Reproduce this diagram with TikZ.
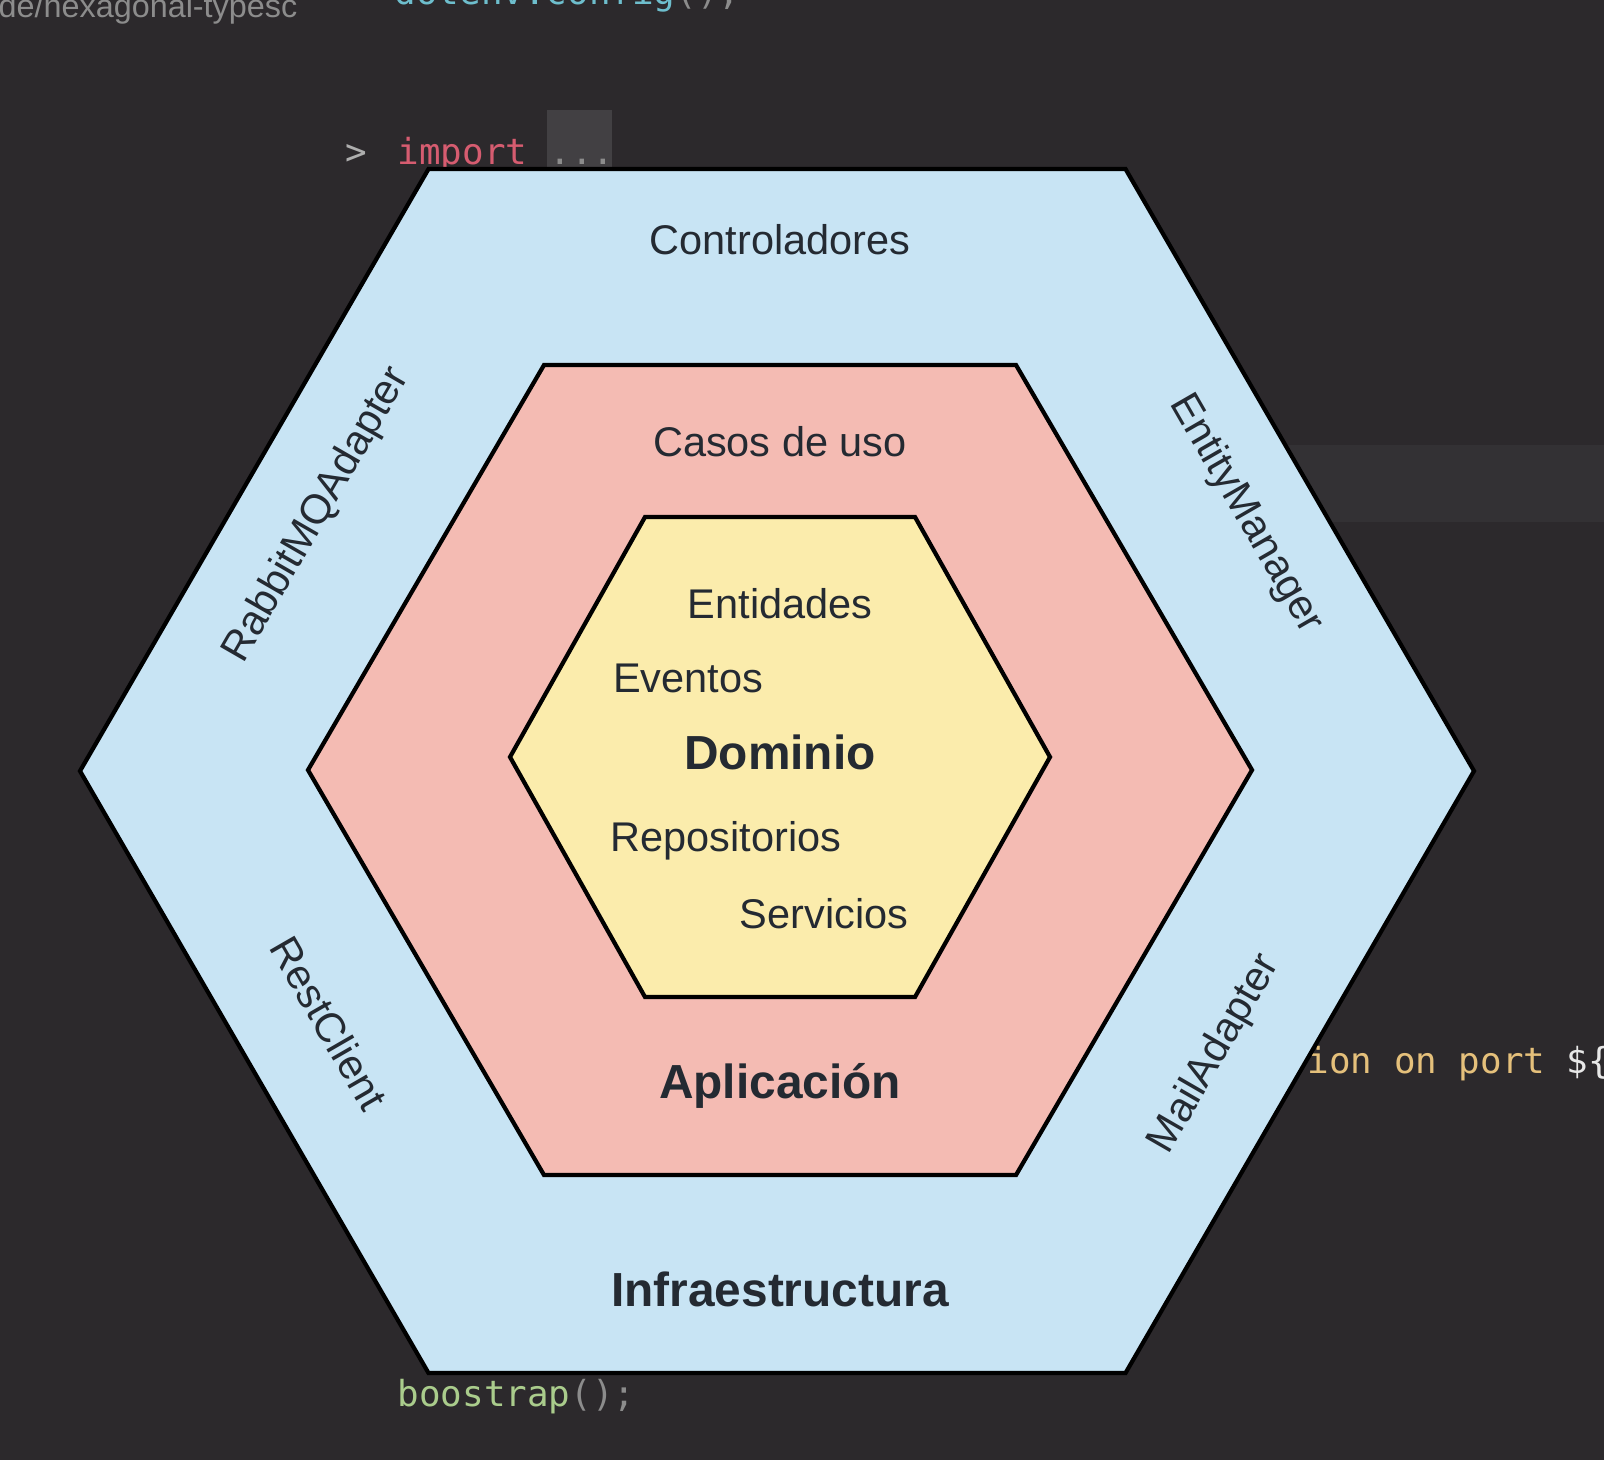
\documentclass[tikz,border=0pt]{standalone}
\usepackage{fontspec}
\setmainfont{Liberation Sans}
\setmonofont{DejaVu Sans Mono}
\usetikzlibrary{positioning}
\definecolor{editorbg}{RGB}{44,41,44}
\definecolor{lineband}{RGB}{51,49,52}
\definecolor{foldbox}{RGB}{66,64,67}
\definecolor{infra}{RGB}{200,228,244}
\definecolor{app}{RGB}{244,187,179}
\definecolor{domain}{RGB}{251,236,172}
\definecolor{ink}{RGB}{36,42,50}
\definecolor{codegray}{RGB}{140,140,140}
\definecolor{keyword}{RGB}{214,92,112}
\definecolor{funcgreen}{RGB}{170,204,140}
\definecolor{strgold}{RGB}{229,192,123}
\definecolor{varcyan}{RGB}{110,190,205}

\begin{document}
\begin{tikzpicture}[x=0.01cm, y=-0.01cm, line join=miter,
  layer/.style={draw=black, line width=1.2pt},
  lbl/.style={font=\fontsize{11.8}{14}\selectfont, text=ink, inner sep=0pt},
  title/.style={font=\fontsize{13.6}{16}\selectfont\bfseries, text=ink, inner sep=0pt},
  code/.style={font=\fontsize{10.2}{12}\selectfont\ttfamily, inner sep=0pt, anchor=base west}]
  \useasboundingbox (0,0) rectangle (1604,1460);
  \fill[editorbg] (0,0) rectangle (1604,1460);
  \fill[lineband] (1100,445) rectangle (1604,522);

  % editor text behind the diagram
  \begin{scope}
    \clip (0,0) rectangle (297,60);
    \node[anchor=base west, inner sep=0pt, text=codegray, font=\fontsize{9.2}{11}\selectfont] (tab) at (-2,17) {de/hexagonal-typesc};
  \end{scope}
  \node[code, text=varcyan] (cfg) at (394,4) {dotenv.config\textcolor{codegray}{();}};
  \node[code, text=codegray!70] (chev) at (345,164) {>};
  \node[code, text=keyword] (imp) at (397,164) {import};
  \fill[foldbox] (547,110) rectangle (612,175);
  \node[code, text=codegray] (dots) at (549,164) {...};
  \node[code, text=strgold] (port) at (1307,1073) {ion on port \textcolor{white!80!codegray}{\$\{}};
  \node[code, text=funcgreen] (boot) at (397,1406) {boostrap\textcolor{codegray}{();}};

  % hexagons: cx/cy/half width/half height/fill
  \foreach \cx/\cy/\r/\h/\c in {777/771/697/602/infra, 780/770/472/405/app, 780/757/270/240/domain}{
    \draw[layer, fill=\c] (\cx-\r,\cy) -- (\cx-\r/2,\cy-\h) -- (\cx+\r/2,\cy-\h)
      -- (\cx+\r,\cy) -- (\cx+\r/2,\cy+\h) -- (\cx-\r/2,\cy+\h) -- cycle;
  }

  % outer ring
  \node[lbl] (ctrl) at (780,240) {Controladores};
  \node[lbl, rotate=60] (rabbit) at (317,515) {RabbitMQAdapter};
  \node[lbl, rotate=-60] (entity) at (1246,514) {EntityManager};
  \node[lbl, rotate=-60] (rest) at (329,1023) {RestClient};
  \node[lbl, rotate=60] (mail) at (1215,1054) {MailAdapter};
  \node[title] (infraname) at (780,1289) {Infraestructura};

  % middle ring
  \node[lbl] (casos) at (780,442) {Casos de uso};
  \node[title] (aplname) at (780,1086) {Aplicación};

  % core
  \node[lbl] (ent) at (780,604) {Entidades};
  \node[lbl] (evt) at (688,678) {Eventos};
  \node[title] (dom) at (780,752) {Dominio};
  \node[lbl] (repo) at (726,841) {Repositorios};
  \node[lbl] (serv) at (824,914) {Servicios};
\end{tikzpicture}
\end{document}
